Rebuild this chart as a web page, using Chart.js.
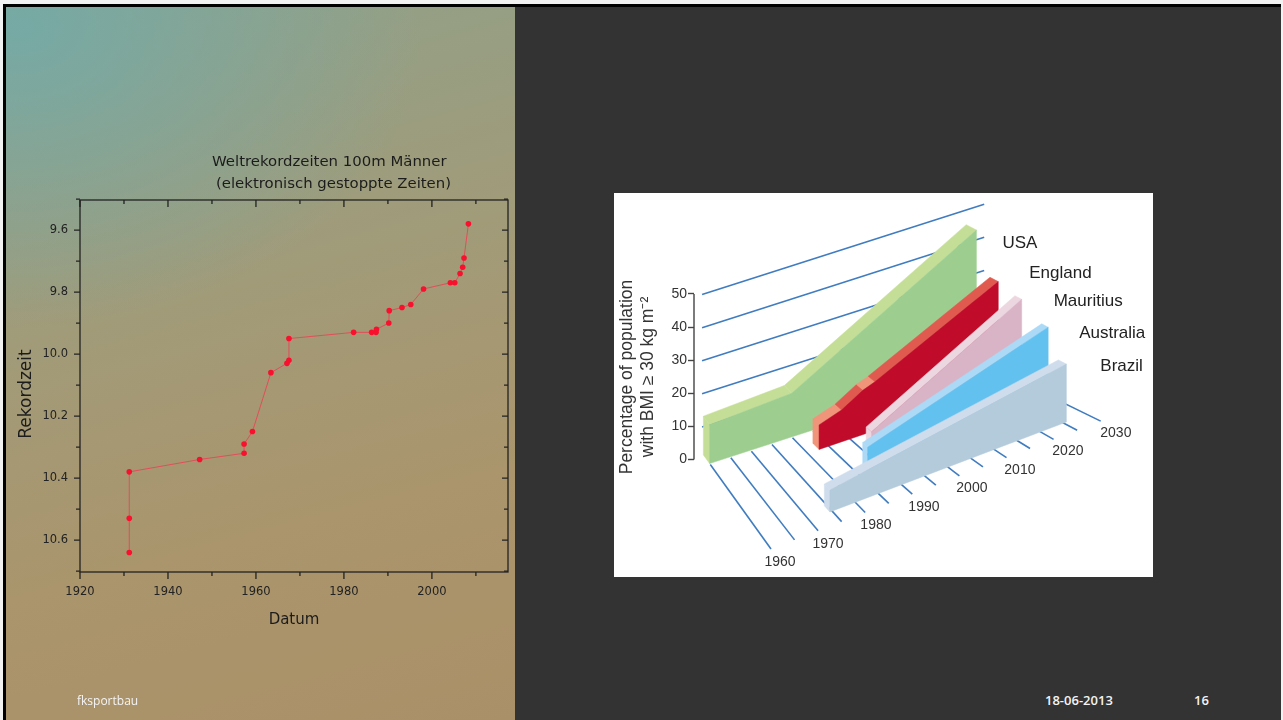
<!DOCTYPE html>
<html>
<head>
<meta charset="utf-8">
<title>Weltrekordzeiten</title>
<script src="https://cdn.jsdelivr.net/npm/chart.js@4"></script>
<style>
  html, body { margin: 0; padding: 0; width: 1283px; height: 720px; overflow: hidden; background: #f2f2f2; }
  #slide { position: absolute; left: 3px; top: 4px; width: 1278px; height: 716px; background: #000; }
  #dark { position: absolute; left: 6px; top: 7px; width: 1275px; height: 713px; background: #333; }
  #paper {
    position: absolute; left: 6px; top: 7px; width: 509px; height: 713px;
    background:
      radial-gradient(ellipse 400px 300px at 3% 3%, rgba(112,172,172,.8), rgba(112,172,172,0)),
      linear-gradient(165deg, #8fa18a 0%, #a19b79 40%, #aa956c 70%, #aa9068 100%);
  }
  canvas { position: absolute; }
  #recordChart { left: 6px; top: 7px; }
  #obesityChart { left: 614px; top: 193px; background: #fff; }
  .foot { position: absolute; color: #f4f4f4; font: 12px "Open Sans", sans-serif; line-height: 16px; white-space: nowrap; }
</style>
</head>
<body>
<div id="slide"></div>
<div id="dark"></div>
<div id="paper"></div>
<canvas id="recordChart" width="509" height="713"></canvas>
<canvas id="obesityChart" width="539" height="384"></canvas>
<div class="foot" style="left:77px;top:693px">fksportbau</div>
<div class="foot" style="left:1045px;top:692px;font-size:13px;font-weight:600">18-06-2013</div>
<div class="foot" style="left:1194px;top:692px;font-size:13px;font-weight:600">16</div>

<script>
// left chart: world records 100m
const recordYears = [1931.2, 1931.2, 1931.2, 1947.2, 1957.3, 1957.3, 1959.2, 1963.4, 1967.05, 1967.5, 1967.5,
  1982.2, 1986.3, 1987.3, 1987.4, 1990.2, 1990.3, 1993.2, 1995.2, 1998.1, 2004.2, 2005.2, 2006.4, 2007, 2007.3, 2008.3];
const recordTimes = [10.64, 10.53, 10.38, 10.34, 10.32, 10.29, 10.25, 10.06, 10.03, 10.02, 9.95,
  9.93, 9.93, 9.93, 9.92, 9.90, 9.86, 9.85, 9.84, 9.79, 9.77, 9.77, 9.74, 9.72, 9.69, 9.58];
const recordXTicks = [1920, 1940, 1960, 1980, 2000];
const recordYTicks = [9.6, 9.8, 10.0, 10.2, 10.4, 10.6];
const recordXMarks = [1920, 1930, 1940, 1950, 1960, 1970, 1980, 1990, 2000, 2010];
const recordYMarks = [9.5, 9.6, 9.7, 9.8, 9.9, 10.0, 10.1, 10.2, 10.3, 10.4, 10.5, 10.6, 10.7];
const recordTitle = ['Weltrekordzeiten 100m Männer', '(elektronisch gestoppte Zeiten)'];

// right chart: obesity, pseudo 3D
const countries = ['USA', 'England', 'Mauritius', 'Australia', 'Brazil'];
const usaYears = [1960, 1980, 2025];
const usaValues = [11.7, 13.2, 44.4];
const englandYears = [1982.7, 1988, 1993.1, 1995.9, 2025];
const englandValues = [7.4, 9.6, 13.4, 14.7, 32.3];
const mauritiusYears = [1990.7, 2025];
const mauritiusValues = [6.8, 30.7];
const australiaYears = [1985.2, 2025];
const australiaValues = [10.5, 26.5];
const brazilYears = [1974.5, 2025.6];
const brazilValues = [6.6, 17.5];
const obesityYTicks = [0, 10, 20, 30, 40, 50];
const wallLevels = [10, 20, 30, 40, 50];
const yearLines = [1960, 1965, 1970, 1975, 1980, 1985, 1990, 1995, 2000, 2005, 2010, 2015, 2020, 2025, 2030];
const yearLabels = [1960, 1970, 1980, 1990, 2000, 2010, 2020, 2030];

const bars = [
  { years: usaYears, values: usaValues, depth: [0.02, 0.11], front: '#9dce8f', top: ['#c5de97', '#c5de97'], labelAt: [26, 13] },
  { years: englandYears, values: englandValues, depth: [0.23, 0.303], front: '#c00b2a',
    top: ['#f0957a', '#e15a50', '#f0957a', '#e15a50'], labelAt: [31, -8] },
  { years: mauritiusYears, values: mauritiusValues, depth: [0.45, 0.51], front: '#d9b4c6', top: ['#ecd6e0'], labelAt: [32, 2] },
  { years: australiaYears, values: australiaValues, depth: [0.687, 0.744], front: '#62c1ef', top: ['#abd9f6'], labelAt: [31, 6] },
  { years: brazilYears, values: brazilValues, depth: [0.81, 0.88], front: '#b4cbdc', top: ['#cfdcec'], labelAt: [34, 2] },
];

// year, percent and depth (0 = back wall, 1 = end of the year lines) to chart units
function project(year, pct, depth) {
  const t = year - 1960;
  return {
    x: 1960 + t + depth * (69 + 0.68 * t) / 4.03,
    y: pct + (6.5 + 1.27 * t - depth * (96 - 0.557 * t)) / 3.31,
  };
}

function polygon(points, color) {
  return { type: 'line', data: points, backgroundColor: color, borderColor: color, borderWidth: 0, pointRadius: 0,
    showLine: false, clip: false, polygon: true };
}

function lineSet(points, color, width) {
  return { type: 'line', data: points, borderColor: color, borderWidth: width, pointRadius: 0, clip: false, tension: 0 };
}

function barSets(bar) {
  const [back, near] = bar.depth;
  const sets = [];
  const n = bar.years.length;
  // end cap
  sets.push(polygon([
    project(bar.years[0], 0, back), project(bar.years[0], bar.values[0], back),
    project(bar.years[0], bar.values[0], near), project(bar.years[0], 0, near),
  ], bar.top[0]));
  // top face, a piece per segment because England changes colour
  for (let i = 0; i < n - 1; i++) {
    sets.push(polygon([
      project(bar.years[i], bar.values[i], back), project(bar.years[i + 1], bar.values[i + 1], back),
      project(bar.years[i + 1], bar.values[i + 1], near), project(bar.years[i], bar.values[i], near),
    ], bar.top[i]));
  }
  // front face
  const front = bar.years.map((y, i) => project(y, bar.values[i], near));
  front.push(project(bar.years[n - 1], 0, near), project(bar.years[0], 0, near));
  sets.push(polygon(front, bar.front));
  return sets;
}

// painter's order: back to front
let obesitySets = [];
wallLevels.forEach(level => {
  obesitySets.push(lineSet([project(1959, level, 0.06), project(2028.3, level, 0.06)], '#3f7cc0', 1.6));
});
yearLines.forEach(year => {
  obesitySets.push(lineSet([project(year, 0, 0.12), project(year, 0, 1)], '#3f7cc0', 1.6));
});
bars.forEach(bar => { obesitySets = obesitySets.concat(barSets(bar)); });
const obesityMinX = 1958.015;
obesitySets.push(lineSet([{ x: obesityMinX, y: 0 }, { x: obesityMinX, y: 50 }], '#444', 1.4));
obesitySets.reverse(); // chart.js paints the last dataset first

// fills the line datasets marked polygon with the points the scales gave them
const polygonFill = {
  id: 'polygonFill',
  beforeDatasetDraw(chart, args) {
    const ds = chart.data.datasets[args.index];
    if (!ds.polygon) return;
    const ctx = chart.ctx;
    ctx.save();
    ctx.beginPath();
    args.meta.data.forEach((p, i) => (i ? ctx.lineTo(p.x, p.y) : ctx.moveTo(p.x, p.y)));
    ctx.closePath();
    ctx.fillStyle = ds.backgroundColor;
    ctx.strokeStyle = ds.backgroundColor;
    ctx.lineWidth = 0.5;
    ctx.fill();
    ctx.stroke();
    ctx.restore();
  },
};

const obesityLabels = {
  id: 'obesityLabels',
  afterDraw(chart) {
    const { ctx, scales } = chart;
    ctx.save();
    ctx.fillStyle = '#333';
    ctx.textBaseline = 'middle';
    ctx.textAlign = 'center';
    ctx.font = '14px "Liberation Sans"';
    yearLabels.forEach(year => {
      const p = project(year, 0, 1.13);
      ctx.fillText(String(year), scales.x.getPixelForValue(p.x), scales.y.getPixelForValue(p.y) + 1 + (year - 1960) * 0.05);
    });
    ctx.textAlign = 'left';
    ctx.font = '17px "Liberation Sans"';
    ctx.fillStyle = '#222';
    bars.forEach((bar, i) => {
      const last = bar.years.length - 1;
      const p = project(bar.years[last], bar.values[last], bar.depth[1]);
      ctx.fillText(countries[i], scales.x.getPixelForValue(p.x) + bar.labelAt[0], scales.y.getPixelForValue(p.y) + bar.labelAt[1]);
    });
    ctx.restore();
  },
};

new Chart(document.getElementById('obesityChart'), {
  type: 'scatter',
  data: { datasets: obesitySets },
  plugins: [polygonFill, obesityLabels],
  options: {
    responsive: false,
    animation: false,
    layout: { padding: { bottom: 16 } },
    plugins: { legend: { display: false }, tooltip: { enabled: false } },
    scales: {
      x: { type: 'linear', display: false, min: obesityMinX, max: 2071.91 },
      y: {
        type: 'linear', min: -30.66, max: 80.5,
        afterBuildTicks(axis) { axis.ticks = obesityYTicks.map(value => ({ value })); },
        afterFit(axis) { axis.width = 80; axis.paddingTop = 0; axis.paddingBottom = 0; },
        border: { display: false },
        grid: { drawOnChartArea: false, tickLength: 6, tickColor: '#444', tickWidth: 1.4 },
        ticks: { color: '#333', padding: 1, autoSkip: false, font: { family: '"Liberation Sans"', size: 14 } },
        title: {
          display: true, color: '#333', padding: { top: 2.5, bottom: 0 },
          text: ['Percentage of population', 'with BMI ≥ 30 kg m⁻²'],
          font: { family: '"Liberation Sans"', size: 17.5, lineHeight: 1.2 },
        },
      },
    },
  },
});

// frame with ticks: outside on left and bottom, inside on top and right
const recordFrame = {
  id: 'recordFrame',
  afterDraw(chart) {
    const { ctx, chartArea: a, scales } = chart;
    ctx.save();
    ctx.strokeStyle = '#222';
    ctx.lineWidth = 1.3;
    ctx.strokeRect(a.left, a.top, a.right - a.left, a.bottom - a.top);
    ctx.beginPath();
    recordXMarks.forEach(v => {
      const x = scales.x.getPixelForValue(v);
      const len = recordXTicks.includes(v) ? 7 : 4;
      ctx.moveTo(x, a.bottom); ctx.lineTo(x, a.bottom + len);
      ctx.moveTo(x, a.top); ctx.lineTo(x, a.top + len);
    });
    recordYMarks.forEach(v => {
      const y = scales.y.getPixelForValue(v);
      const len = recordYTicks.includes(v) ? 6 : 4;
      ctx.moveTo(a.left, y); ctx.lineTo(a.left - len, y);
      ctx.moveTo(a.right, y); ctx.lineTo(a.right - len, y);
    });
    ctx.stroke();

    ctx.fillStyle = '#1c1c1c';
    ctx.font = '14.9px "DejaVu Sans"';
    ctx.textBaseline = 'middle';
    ctx.textAlign = 'left';
    ctx.fillText(recordTitle[0], 206, 155);
    ctx.fillText(recordTitle[1], 210, 177);
    ctx.translate(21, 387);
    ctx.rotate(-Math.PI / 2);
    ctx.textAlign = 'center';
    ctx.font = '17px "DejaVu Sans"';
    ctx.fillText('Rekordzeit', 0, 0);
    ctx.restore();
  },
};

new Chart(document.getElementById('recordChart'), {
  type: 'scatter',
  data: {
    datasets: [{
      data: recordYears.map((x, i) => ({ x, y: recordTimes[i] })),
      showLine: true,
      borderColor: 'rgba(232,70,85,0.9)',
      borderWidth: 1,
      pointRadius: 2.8,
      pointBackgroundColor: '#f8102e',
      pointBorderWidth: 0,
    }],
  },
  plugins: [recordFrame],
  options: {
    responsive: false,
    animation: false,
    layout: { padding: { left: 0, right: 7, top: 193, bottom: 91 } },
    plugins: { legend: { display: false }, tooltip: { enabled: false } },
    scales: {
      x: {
        type: 'linear', min: 1920, max: 2017.3,
        afterBuildTicks(axis) { axis.ticks = recordXTicks.map(value => ({ value })); },
        afterFit(axis) { axis.height = 57; axis.paddingLeft = 0; axis.paddingRight = 0; },
        grid: { display: false, drawTicks: false },
        border: { display: false },
        ticks: { color: '#222', padding: 13, maxRotation: 0, autoSkip: false, callback: v => String(v), font: { family: '"DejaVu Sans"', size: 11.5 } },
        title: { display: true, text: 'Datum', color: '#1c1c1c', padding: 0, font: { family: '"DejaVu Sans"', size: 15 } },
      },
      y: {
        type: 'linear', reverse: true, min: 9.503, max: 10.703,
        afterBuildTicks(axis) { axis.ticks = recordYTicks.map(value => ({ value })); },
        afterFit(axis) { axis.width = 74; axis.paddingTop = 0; axis.paddingBottom = 0; },
        grid: { display: false, drawTicks: false },
        border: { display: false },
        ticks: { color: '#222', padding: 12, autoSkip: false, callback: v => v.toFixed(1), font: { family: '"DejaVu Sans"', size: 11.5 } },
      },
    },
  },
});
</script>
</body>
</html>
